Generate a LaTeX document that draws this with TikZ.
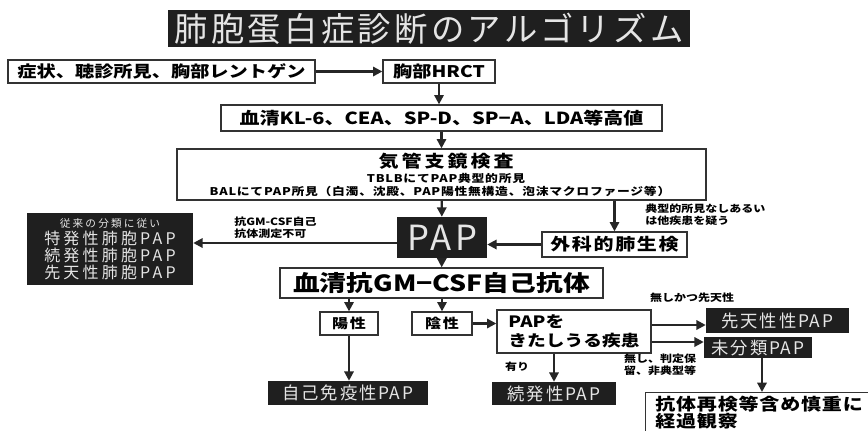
\documentclass[tikz,border=0pt]{standalone}
\usepackage{fontspec}
\setmainfont{Noto Sans CJK JP}
\newfontfamily\jpb{Noto Sans CJK JP}[FakeStretch=1.2]
\newfontfamily\jpwide{Noto Sans CJK JP}[LetterSpace=10]
\newfontfamily\jpwider{Noto Sans CJK JP}[LetterSpace=20]
\usetikzlibrary{arrows.meta}
\begin{document}
\begin{tikzpicture}[x=0.75pt,y=-0.75pt,
  wbox/.style 2 args={draw=black!80, line width=1pt, fill=white, minimum width=#1*0.75pt, minimum height=#2*0.75pt, inner sep=0pt},
  bbox/.style 2 args={fill=black!88, text=white!90!black, minimum width=#1*0.75pt, minimum height=#2*0.75pt, inner sep=0pt},
  arr/.style={line width=1.6pt, draw=black!85, -{Triangle[length=7pt,width=7pt]}},
  txt/.style={inner sep=0pt},
  lbl/.style={font=\jpb\bfseries\fontsize{7.5}{9}\selectfont, align=left, inner sep=0pt}]
\useasboundingbox (0,0) rectangle (868,430);
\fill[white] (0,0) rectangle (868,430);

\node[bbox={522}{37}, font=\jpwide\fontsize{25}{28}\selectfont] (title) at (429,28.5) {肺胞蛋白症診断のアルゴリズム};

\node[wbox={307}{23}, font=\jpb\bfseries\fontsize{12}{14}\selectfont] (s1) at (161.5,71.5) {症状、聴診所見、胸部レントゲン};
\node[wbox={112}{23}, font=\jpb\bfseries\fontsize{12}{14}\selectfont] (hrct) at (439,71.5) {胸部HRCT};
\node[wbox={441}{26}, font=\jpb\bfseries\fontsize{12.5}{14}\selectfont] (kl) at (441.5,118) {血清KL-6、CEA、SP-D、SP−A、LDA等高値};

\node[wbox={529}{51}] (bron) at (441.5,174.5) {};
\node[txt, font=\jpb\bfseries\fontsize{12.5}{14}\selectfont\addfontfeatures{LetterSpace=18}] (bt1) at (446,161) {気管支鏡検査};
\node[txt, font=\jpb\bfseries\fontsize{8}{9}\selectfont\addfontfeatures{LetterSpace=7}] (bt2) at (446,178) {TBLBにてPAP典型的所見};
\node[txt, font=\jpb\bfseries\fontsize{8}{9}\selectfont\addfontfeatures{LetterSpace=7}] (bt3) at (440,191) {BALにてPAP所見（白濁、沈殿、PAP陽性無構造、泡沫マクロファージ等）};

\node[bbox={90}{41}, font=\jpwide\fontsize{26}{28}\selectfont] (pap) at (442,237.5) {PAP};
\node[wbox={145}{25}, font=\jpb\bfseries\fontsize{12.5}{14}\selectfont\addfontfeatures{LetterSpace=10}] (surg) at (614.5,244.5) {外科的肺生検};
\node[bbox={166}{72}, align=center, font=\jpwider\fontsize{12}{12.8}\selectfont] (left) at (110,249)
  {{\fontsize{8}{9}\selectfont 従来の分類に従い}\\特発性肺胞PAP\\続発性肺胞PAP\\先天性肺胞PAP};

\node[wbox={323}{30}, font=\jpb\bfseries\fontsize{16.7}{18}\selectfont] (gm) at (441.5,283) {血清抗GM−CSF自己抗体};
\node[wbox={58}{23}, font=\jpb\bfseries\fontsize{10}{12}\selectfont\addfontfeatures{LetterSpace=12}] (pos) at (349,323.5) {陽性};
\node[wbox={60}{23}, font=\jpb\bfseries\fontsize{10}{12}\selectfont\addfontfeatures{LetterSpace=12}] (neg) at (442,323.5) {陰性};
\node[wbox={154}{43}, align=left, font=\jpb\bfseries\fontsize{11.7}{14}\selectfont] (dis) at (574,331.5) {PAPを\\きたしうる疾患};
\node[bbox={143}{25}, font=\jpwide\fontsize{13}{15}\selectfont] (cong) at (777.5,320.5) {先天性性PAP};
\node[bbox={108}{21}, font=\jpwide\fontsize{13}{15}\selectfont] (uncl) at (758,347.5) {未分類PAP};
\node[bbox={160}{24}, font=\jpwide\fontsize{13}{15}\selectfont] (auto) at (348,393) {自己免疫性PAP};
\node[bbox={124}{23}, font=\jpwide\fontsize{13}{15}\selectfont] (sec) at (554,393.5) {続発性PAP};

\node[draw=black!80, line width=1pt, fill=white, anchor=north west, minimum width=260*0.75pt, minimum height=60*0.75pt, inner sep=0pt] (obs) at (645,392) {};
\node[txt, anchor=west, font=\jpb\bfseries\fontsize{12.5}{14}\selectfont\addfontfeatures{LetterSpace=5}] (ot1) at (655,404) {抗体再検等含め慎重に};
\node[txt, anchor=west, font=\jpb\bfseries\fontsize{12.5}{14}\selectfont\addfontfeatures{LetterSpace=5}] (ot2) at (655,421) {経過観察};

% labels
\node[lbl, anchor=west] (l1) at (645,215) {典型的所見なしあるい\\は他疾患を疑う};
\node[lbl, anchor=west] (l2) at (234,228) {抗GM-CSF自己\\抗体測定不可};
\node[lbl] (l3) at (692,298) {無しかつ先天性};
\node[lbl] (l4) at (660,365) {無し、判定保\\留、非典型等};
\node[lbl] (l5) at (517,367) {有り};

% arrows
\draw[arr] (s1) -- (hrct);
\draw[arr] (hrct.south) -- (hrct.south |- kl.north);
\draw[arr] (kl) -- (bron);
\draw[arr] (bron) -- (pap);
\draw[arr] (bron.south -| surg) -- (surg.north);
\draw[arr] (surg.west) -- (surg.west -| pap.east);
\draw[arr] (pap.west |- 0,243) -- (left.east |- 0,243);
\draw[arr] (pap) -- (gm);
\draw[arr] (gm.south -| pos) -- (pos.north);
\draw[arr] (gm.south -| neg) -- (neg.north);
\draw[arr] (neg.east) -- (neg.east -| dis.west);
\draw[arr] (pos.south) -- (pos.south |- auto.north);
\draw[arr] (dis.south -| sec) -- (sec.north);
\draw[arr] (dis.east |- 0,325) -- (cong.west |- 0,325);
\draw[arr] (dis.east |- 0,342) -- (uncl.west |- 0,342);
\draw[arr] (uncl.south -| 762,0) -- (obs.north -| 762,0);
\end{tikzpicture}
\end{document}
